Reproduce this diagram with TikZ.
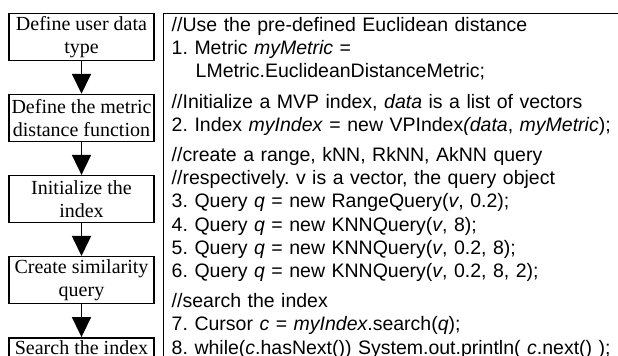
\documentclass[tikz,border=0pt]{standalone}
\usepackage{fontspec}
\setmainfont{Liberation Serif}
\setsansfont{Liberation Sans}
\usetikzlibrary{arrows.meta, positioning}
\frenchspacing

\begin{document}
\begin{tikzpicture}[
    x=1pt, y=1pt,
    node distance=16.3pt,
    every node/.style={font=\fontsize{10}{11.5}\selectfont},
    stepbox/.style={draw, line width=0.75pt, minimum width=72.5pt, minimum height=23.5pt, inner sep=1pt, align=center},
    codebox/.style={draw, line width=0.75pt, anchor=north west, text width=250pt, inner xsep=4pt, inner ysep=2pt, align=left, font=\sffamily\fontsize{9.75}{11.6}\selectfont},
    ar/.style={-{Triangle[length=10pt, width=9.5pt]}, line width=0.85pt}
]
% page frame; the code panel runs on past the right and bottom edges
\useasboundingbox (0,0) rectangle (309,-178);
\clip (0,0) rectangle (309,-178);
% left column: the steps
\node[stepbox, anchor=north] (usertype) at (40.75,-6.35) {Define user data\\type};
\node[stepbox, below=of usertype] (metric) {Define the metric\\distance function};
\node[stepbox, below=of metric] (init) {Initialize the\\index};
\node[stepbox, below=of init] (query) {Create similarity\\query};
\node[stepbox, below=of query, minimum height=0pt, inner ysep=1.5pt, text depth=3pt] (search) {Search the index};
\draw[ar] (usertype) -- (metric);
\draw[ar] (metric) -- (init);
\draw[ar] (init) -- (query);
\draw[ar] (query) -- (search);
% right column: the code for each step
\node[codebox] (code) at (81.5,-6.35) {%
//Use the pre-defined Euclidean distance\\
1. Metric \textit{myMetric} =\\
\hspace*{12pt}LMetric.EuclideanDistanceMetric;\\[3.5pt]
//Initialize a MVP index, \textit{data} is a list of vectors\\
2. Index \textit{myIndex} = new VPIndex\textit{(data}, \textit{myMetric});\\[3.5pt]
//create a range, kNN, RkNN, AkNN query\\
//respectively. v is a vector, the query object\\
3. Query \textit{q} = new RangeQuery(\textit{v}, 0.2);\\
4. Query \textit{q} = new KNNQuery(\textit{v}, 8);\\
5. Query \textit{q} = new KNNQuery(\textit{v}, 0.2, 8);\\
6. Query \textit{q} = new KNNQuery(\textit{v}, 0.2, 8, 2);\\[3.5pt]
//search the index\\
7. Cursor \textit{c} = \textit{myIndex}.search(\textit{q});\\
8. while(\textit{c}.hasNext()) System.out.println( \textit{c}.next() );};
\end{tikzpicture}
\end{document}
